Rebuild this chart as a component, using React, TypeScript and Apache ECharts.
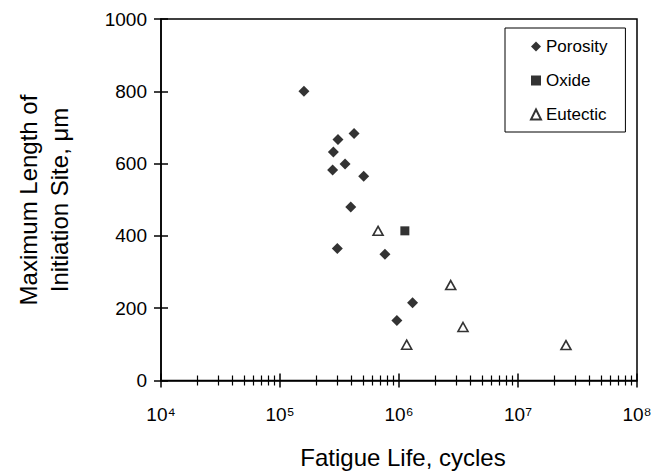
import React, { useEffect, useRef } from "react";
import * as echarts from "echarts";

const porosity: [number, number][] = [
  [1.59e5, 800], [3.07e5, 667], [4.19e5, 683], [2.81e5, 632],
  [3.52e5, 599], [2.77e5, 582], [5.05e5, 565], [3.93e5, 480],
  [3.03e5, 365], [7.62e5, 349], [1.3e6, 215], [9.6e5, 166],
];
const oxide: [number, number][] = [[1.12e6, 414]];
const eutectic: [number, number][] = [
  [6.67e5, 414], [1.16e6, 99], [2.72e6, 264], [3.45e6, 148], [2.53e7, 98],
];
const decades = [4, 5, 6, 7];
const minorMultipliers = [2, 3, 4, 5, 6, 7, 8, 9];
const superDigits = ["\u2070", "\u00b9", "\u00b2", "\u00b3", "\u2074", "\u2075", "\u2076", "\u2077", "\u2078", "\u2079"];
const xTitle = "Fatigue Life, cycles";
const yTitle1 = "Maximum Length of";
const yTitle2 = "Initiation Site, \u03bcm";

const FONT = "'Liberation Sans', Arial, sans-serif";

export default function App() {
  const ref = useRef<HTMLDivElement>(null);
  useEffect(() => {
    if (!ref.current) return;
    const chart = echarts.init(ref.current, null, { renderer: "svg" });
    const minorVals: number[] = [];
    decades.forEach((d) => minorMultipliers.forEach((m) => minorVals.push(d + Math.log10(m))));
    const line = { color: "#000", width: 1.5 };
    const baseLog = {
      type: "log",
      logBase: 10,
      min: 1e4,
      max: 1e8,
      splitNumber: 4,
      position: "bottom",
      gridIndex: 0,
      splitLine: { show: false },
      axisLine: { show: false, onZero: false },
    };
    const baseMinor = {
      type: "value",
      min: 4,
      max: 8,
      position: "bottom",
      splitLine: { show: false },
      axisLine: { show: false, onZero: false },
      axisLabel: { show: false },
    };
    chart.setOption({
      animation: false,
      textStyle: { fontFamily: FONT, color: "#000" },
      grid: {
        left: 161, right: 21, top: 19, bottom: 92.5,
        show: true, borderColor: "#000", borderWidth: 1.5, backgroundColor: "transparent",
      },
      xAxis: [
        {
          ...baseLog,
          axisLine: { show: true, onZero: false, lineStyle: line },
          axisTick: { show: true, length: 7, lineStyle: line },
          axisLabel: {
            margin: 24,
            fontSize: 19,
            fontFamily: FONT,
            color: "#000",
            formatter: (v: number) => "10" + superDigits[Math.round(Math.log10(v))],
          },
        },
        {
          ...baseLog,
          axisTick: { show: true, inside: true, length: 7, lineStyle: line },
          axisLabel: { show: false },
        },
        {
          ...baseMinor,
          axisTick: { show: true, length: 5, customValues: minorVals, lineStyle: { color: "#000", width: 1.2 } },
        },
        {
          ...baseMinor,
          axisTick: { show: true, inside: true, length: 5, customValues: minorVals, lineStyle: { color: "#000", width: 1.2 } },
        },
      ],
      yAxis: [
        {
          type: "value", min: 0, max: 1000, interval: 200, position: "left",
          splitLine: { show: false },
          axisLine: { show: true, onZero: false, lineStyle: line },
          axisTick: { show: true, length: 7, lineStyle: line },
          axisLabel: {
            margin: 14, fontSize: 19, color: "#000", fontFamily: FONT,
            formatter: (v: number) => String(v),
          },
        },
        {
          type: "value", min: 0, max: 1000, interval: 200, position: "left",
          splitLine: { show: false },
          axisLine: { show: false, onZero: false },
          axisTick: { show: true, inside: true, length: 7, lineStyle: line },
          axisLabel: { show: false },
        },
      ],
      legend: {
        orient: "vertical",
        left: 505,
        top: 28,
        padding: [10, 18, 9, 25],
        itemGap: 17,
        itemWidth: 10,
        itemHeight: 10,
        borderColor: "#000",
        borderWidth: 1,
        borderRadius: 0,
        textStyle: { fontSize: 17, color: "#000", fontFamily: FONT },
        data: ["Porosity", "Oxide", "Eutectic"],
      },
      series: [
        {
          name: "Porosity", type: "scatter", data: porosity, symbol: "diamond", symbolSize: 11,
          itemStyle: { color: "#000" },
        },
        {
          name: "Oxide", type: "scatter", data: oxide, symbol: "rect", symbolSize: 9,
          itemStyle: { color: "#000" },
        },
        {
          name: "Eutectic", type: "scatter", data: eutectic, symbol: "triangle", symbolSize: [10, 9],
          itemStyle: { color: "#fff", borderColor: "#000", borderWidth: 1.6 },
        },
      ],
      graphic: [
        {
          type: "text", x: 403, y: 457,
          style: { text: xTitle, fontSize: 24, fontFamily: FONT, fill: "#000", align: "center", verticalAlign: "middle" },
        },
        {
          type: "text", x: 28, y: 200, rotation: Math.PI / 2,
          style: { text: yTitle1, fontSize: 24, fontFamily: FONT, fill: "#000", align: "center", verticalAlign: "middle" },
        },
        {
          type: "text", x: 59, y: 200, rotation: Math.PI / 2,
          style: { text: yTitle2, fontSize: 24, fontFamily: FONT, fill: "#000", align: "center", verticalAlign: "middle" },
        },
      ],
    });
    return () => chart.dispose();
  }, []);
  return <div ref={ref} style={{ width: 658, height: 473, position: "absolute", left: 0, top: 0 }} />;
}
